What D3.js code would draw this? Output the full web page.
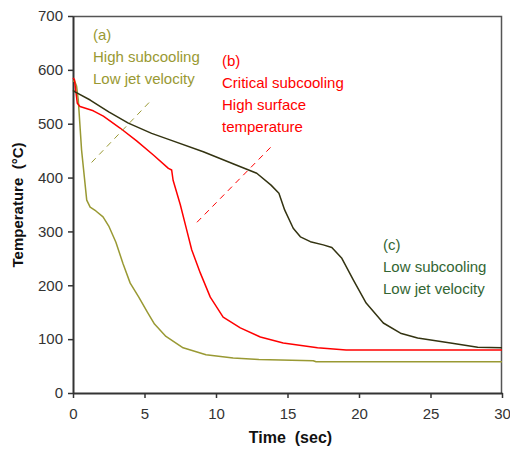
<!DOCTYPE html>
<html>
<head>
<meta charset="utf-8">
<script src="https://cdn.jsdelivr.net/npm/d3@7"></script>
<style>
  body { margin: 0; background: #fff; }
  text { font-family: "Liberation Sans", Arial, sans-serif; }
</style>
</head>
<body>
<div id="chart"></div>
<script>
// curve (a): high subcooling, low jet velocity
var timeA = [0, 0.1, 0.25, 0.37, 0.6, 0.96, 1.2, 1.6, 2.1, 2.5, 3.0, 3.5, 4.0, 4.6, 5.2, 5.7, 6.5, 7.7, 9.3, 11.2, 13.0, 16.8, 17.0, 30];
var tempA = [578, 580, 570, 544, 451, 358, 345, 338, 327, 310, 280, 240, 204, 178, 150, 128, 105, 84, 71, 65, 62, 60, 58, 58];

// curve (b): critical subcooling, high surface temperature
var timeB = [0, 0.1, 0.3, 0.49, 1.42, 2.12, 3.29, 4.45, 5.62, 6.67, 6.9, 7.0, 7.5, 7.95, 8.3, 8.9, 9.6, 10.5, 11.7, 13.1, 14.7, 17.1, 19.1, 30];
var tempB = [585, 582, 538, 532, 524, 514, 492, 468, 442, 417, 414, 395, 350, 303, 266, 223, 178, 141, 121, 104, 93, 84, 80, 80];

// curve (c): low subcooling, low jet velocity
var timeC = [0, 0.14, 1.2, 2.5, 3.87, 5.5, 6.78, 9.11, 11.45, 12.85, 13.85, 14.4, 14.8, 15.4, 15.9, 16.6, 17.5, 18.1, 18.8, 19.6, 20.5, 21.7, 22.9, 24.1, 26.4, 28.3, 30];
var tempC = [562, 559, 544, 522, 501, 482, 470, 448, 423, 408, 386, 371, 340, 306, 290, 281, 275, 270, 250, 210, 167, 130, 111, 102, 93, 85, 84];

var xTicks = [0, 5, 10, 15, 20, 25, 30];
var yTicks = [0, 100, 200, 300, 400, 500, 600, 700];

// dashed pointer lines, in data units [time, temp]
var pointerA = [[1.3, 428], [5.38, 541]];
var pointerB = [[8.67, 317], [13.85, 457]];

var labelsA = ["(a)", "High subcooling", "Low jet velocity"];
var labelsB = ["(b)", "Critical subcooling", "High surface", "temperature"];
var labelsC = ["(c)", "Low subcooling", "Low jet velocity"];

var margin = {top: 16, right: 8, bottom: 67, left: 73},
  width = 510 - margin.left - margin.right,
  height = 460 - margin.top - margin.bottom;

var svg = d3.select("#chart").append("svg")
  .attr("width", 510)
  .attr("height", 460);

var g = svg.append("g").attr("transform", "translate(" + margin.left + "," + margin.top + ")");

var x = d3.scaleLinear().domain([0, 30]).range([0, width]);
var y = d3.scaleLinear().domain([0, 700]).range([height, 0]);

// frame top + right
g.append("path")
  .attr("d", "M0,0.5H" + (width - 0.5) + "V" + height)
  .attr("fill", "none")
  .attr("stroke", "#555")
  .attr("stroke-width", 1.5);

var xAxis = g.append("g")
  .attr("transform", "translate(0," + height + ")")
  .call(d3.axisBottom(x).tickValues(xTicks).tickSize(5).tickPadding(10).tickSizeOuter(0));
var yAxis = g.append("g")
  .call(d3.axisLeft(y).tickValues(yTicks).tickSize(5).tickPadding(5).tickSizeOuter(0));

[xAxis, yAxis].forEach(function (ax) {
  ax.select(".domain").attr("stroke", "#333").attr("stroke-width", 2);
  ax.selectAll(".tick line").attr("stroke", "#333").attr("stroke-width", 1.5);
  ax.selectAll(".tick text")
    .attr("fill", "#333")
    .style("font-size", "15px")
    .style("font-family", "'Liberation Sans', Arial, sans-serif");
});

var line = d3.line()
  .x(function (d) { return x(d[0]); })
  .y(function (d) { return y(d[1]); });

function series(times, temps) {
  return times.map(function (t, i) { return [t, temps[i]]; });
}

function curve(data, color) {
  g.append("path").datum(data)
    .attr("d", line)
    .attr("fill", "none")
    .attr("stroke", color)
    .attr("stroke-width", 1.5)
    .attr("stroke-linejoin", "round");
}

curve(series(timeA, tempA), "#999933");
curve(series(timeB, tempB), "#ff0000");
curve(series(timeC, tempC), "#333311");

g.append("path").datum(pointerA)
  .attr("d", line).attr("fill", "none").attr("stroke", "#999933")
  .attr("stroke-width", 1).attr("stroke-dasharray", "6,5");
g.append("path").datum(pointerB)
  .attr("d", line).attr("fill", "none").attr("stroke", "#ff0000")
  .attr("stroke-width", 1).attr("stroke-dasharray", "6,5");

function block(lines, px, py, color) {
  var t = svg.append("text")
    .attr("x", px).attr("y", py)
    .attr("fill", color)
    .style("font-size", "15px");
  lines.forEach(function (s, i) {
    t.append("tspan").attr("x", px).attr("dy", i === 0 ? 0 : 22).text(s);
  });
}

block(labelsA, 93, 40, "#999933");
block(labelsB, 222, 66, "#ff0000");
block(labelsC, 383, 250, "#336633");

svg.append("text")
  .attr("x", margin.left + width / 2 + 3)
  .attr("y", 443)
  .attr("text-anchor", "middle")
  .attr("fill", "#111")
  .style("font-size", "16px")
  .style("font-weight", "bold")
  .style("white-space", "pre")
  .text("Time  (sec)");

svg.append("text")
  .attr("transform", "translate(23,205) rotate(-90)")
  .attr("text-anchor", "middle")
  .attr("fill", "#111")
  .style("font-size", "15px")
  .style("font-weight", "bold")
  .style("white-space", "pre")
  .text("Temperature  (\u00B0C)");
</script>
</body>
</html>
